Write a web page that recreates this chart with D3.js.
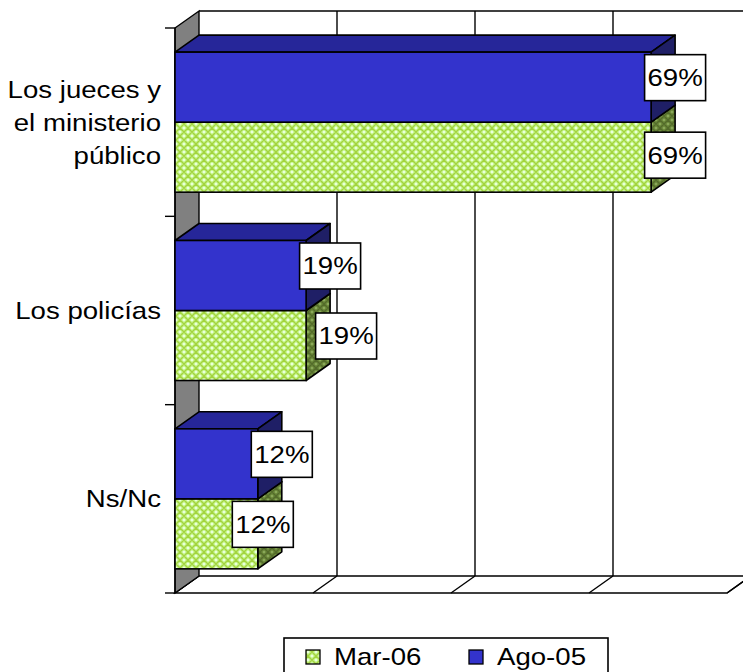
<!DOCTYPE html>
<html><head><meta charset="utf-8">
<script src="https://cdn.jsdelivr.net/npm/d3@7"></script>
<style>html,body{margin:0;padding:0;background:#fff}svg{display:block}</style>
</head><body>
<svg id="chart" width="743" height="672"></svg>
<script>
const categories = ["Los jueces y el ministerio público", "Los policías", "Ns/Nc"];
const categoryLines = [["Los jueces y", "el ministerio", "público"], ["Los policías"], ["Ns/Nc"]];
const seriesNames = ["Ago-05", "Mar-06"];
const ago05 = [69, 19, 12];
const mar06 = [69, 19, 12];
const xTicks = [0, 20, 40, 60, 80];
const legendOrder = ["Mar-06", "Ago-05"];

// per-label nudges (pixels) to mimic manual label placement in the original
const labelNudge = { "Ago-05": [[0,0],[0,0],[0,0]], "Mar-06": [[0,7.5],[16,0],[-19,0]] };

const svg = d3.select("#chart");
const FONT = "'Liberation Sans', Arial, sans-serif";
const SX = 1.15; // horizontal stretch of text in the original
const DX = 24, DY = -17;
const pLeft = 175, pRight = 727, pTop = 28, pBottom = 593;

const x = d3.scaleLinear().domain([0, 80]).range([pLeft, pRight]);
const y = d3.scaleBand().domain(categories).range([pTop, pBottom]).padding(0);
const y1 = d3.scaleBand().domain(seriesNames).range([0, y.bandwidth()]).paddingInner(0).paddingOuter(0.345);

const defs = svg.append("defs");
function makePattern(id, bg, ln, dot) {
  const p = defs.append("pattern").attr("id", id).attr("patternUnits", "userSpaceOnUse")
    .attr("width", 8).attr("height", 8);
  p.append("rect").attr("width", 8).attr("height", 8).attr("fill", bg);
  p.append("path").attr("d", "M4,0 L8,4 L4,8 L0,4 Z").attr("fill", "none").attr("stroke", ln).attr("stroke-width", 1.5);
  [[3,3],[-1,-1],[7,7],[7,-1],[-1,7]].forEach(([a,b]) =>
    p.append("rect").attr("x", a).attr("y", b).attr("width", 2).attr("height", 2).attr("fill", dot));
}
makePattern("greenFront", "#ccf99a", "#a3d43e", "#eaffdc");
makePattern("greenSide", "#6e8c3c", "#536b2a", "#8aa85a");
makePattern("greenTop", "#a0cc60", "#7aa030", "#c0e090");

const colors = {
  "Ago-05": { front: "#3333cc", top: "#262699", side: "#1f1f66" },
  "Mar-06": { front: "url(#greenFront)", top: "url(#greenTop)", side: "url(#greenSide)" }
};
const values = { "Ago-05": ago05, "Mar-06": mar06 };

const path = d3.line();
const stroke = "#000";

function addText(parent, tx, ty, str, size, anchor) {
  parent.append("g").attr("transform", `translate(${tx},${ty}) scale(${SX},1)`)
    .append("text").attr("x", 0).attr("y", 0).attr("text-anchor", anchor).attr("dominant-baseline", "central")
    .attr("font-family", FONT).attr("font-size", size).attr("fill", "#000").text(str);
}

// back wall gridlines and top border
const g = svg.append("g");
xTicks.forEach(t => {
  if (t === 0) return;
  g.append("line").attr("x1", x(t) + DX).attr("x2", x(t) + DX)
    .attr("y1", pTop + DY).attr("y2", pBottom + DY).attr("stroke", stroke).attr("stroke-width", 1.4);
});
g.append("line").attr("x1", x(0) + DX).attr("x2", x(80) + DX).attr("y1", pTop + DY).attr("y2", pTop + DY)
  .attr("stroke", stroke).attr("stroke-width", 1.4);

// floor
g.append("path").attr("d", path([[x(0), pBottom], [x(0) + DX, pBottom + DY], [x(80) + DX, pBottom + DY], [x(80), pBottom]]) + "Z")
  .attr("fill", "#fff").attr("stroke", stroke).attr("stroke-width", 1.4);
xTicks.forEach(t => {
  g.append("line").attr("x1", x(t)).attr("y1", pBottom).attr("x2", x(t) + DX).attr("y2", pBottom + DY)
    .attr("stroke", stroke).attr("stroke-width", 1.4);
});

// left side wall
g.append("path").attr("d", path([[pLeft, pTop], [pLeft + DX, pTop + DY], [pLeft + DX, pBottom + DY], [pLeft, pBottom]]) + "Z")
  .attr("fill", "#808080").attr("stroke", stroke).attr("stroke-width", 1.4);

// axis line and ticks
g.append("line").attr("x1", pLeft).attr("x2", pLeft).attr("y1", pTop).attr("y2", pBottom).attr("stroke", stroke).attr("stroke-width", 1.4);
const tickYs = categories.map(c => y(c)).concat([pBottom]);
tickYs.forEach(ty => {
  g.append("line").attr("x1", pLeft - 10).attr("x2", pLeft).attr("y1", ty).attr("y2", ty).attr("stroke", stroke).attr("stroke-width", 1.4);
});

// bars (bottom to top so upper bars cover lower bar tops)
const bars = svg.append("g");
const drawOrder = [];
for (let i = categories.length - 1; i >= 0; i--) {
  for (let s = seriesNames.length - 1; s >= 0; s--) drawOrder.push([i, seriesNames[s]]);
}
drawOrder.forEach(([i, s]) => {
  const v = values[s][i];
  const x0 = x(0), x1 = x(v);
  const y0 = y(categories[i]) + y1(s), yb = y0 + y1.bandwidth();
  const c = colors[s];
  const sw = 1.6;
  bars.append("path").attr("d", path([[x0, y0], [x0 + DX, y0 + DY], [x1 + DX, y0 + DY], [x1, y0]]) + "Z")
    .attr("fill", c.top).attr("stroke", stroke).attr("stroke-width", sw).attr("stroke-linejoin", "round");
  bars.append("path").attr("d", path([[x1, y0], [x1 + DX, y0 + DY], [x1 + DX, yb + DY], [x1, yb]]) + "Z")
    .attr("fill", c.side).attr("stroke", stroke).attr("stroke-width", sw).attr("stroke-linejoin", "round");
  bars.append("rect").attr("x", x0).attr("y", y0).attr("width", x1 - x0).attr("height", yb - y0)
    .attr("fill", c.front).attr("stroke", stroke).attr("stroke-width", sw);
});

// data labels
const labels = svg.append("g");
categories.forEach((cat, i) => {
  seriesNames.forEach(s => {
    const v = values[s][i];
    const yc = y(cat) + y1(s) + y1.bandwidth() / 2;
    const nud = labelNudge[s][i];
    const cx = x(v) + DX + nud[0];
    const cy = yc - 9.5 + nud[1];
    const w = 61, h = 46;
    labels.append("rect").attr("x", cx - w / 2).attr("y", cy - h / 2).attr("width", w).attr("height", h)
      .attr("fill", "#fff").attr("stroke", stroke).attr("stroke-width", 1.6);
    addText(labels, cx, cy, v + "%", 24, "middle");
  });
});

// category labels
const catG = svg.append("g");
categories.forEach((cat, i) => {
  const lines = categoryLines[i];
  const cy = y(cat) + y.bandwidth() / 2;
  lines.forEach((ln, k) => {
    addText(catG, 161, cy + (k - (lines.length - 1) / 2) * 33, ln, 24, "end");
  });
});

// legend
const leg = svg.append("g");
leg.append("rect").attr("x", 284).attr("y", 638).attr("width", 324).attr("height", 60)
  .attr("fill", "#fff").attr("stroke", stroke).attr("stroke-width", 1.6);
const legX = [306, 469];
legendOrder.forEach((s, k) => {
  leg.append("rect").attr("x", legX[k]).attr("y", 650).attr("width", 14).attr("height", 14)
    .attr("fill", colors[s].front).attr("stroke", stroke).attr("stroke-width", 1.3);
  addText(leg, legX[k] + 28, 657, s, 24, "start");
});
</script>
</body></html>
